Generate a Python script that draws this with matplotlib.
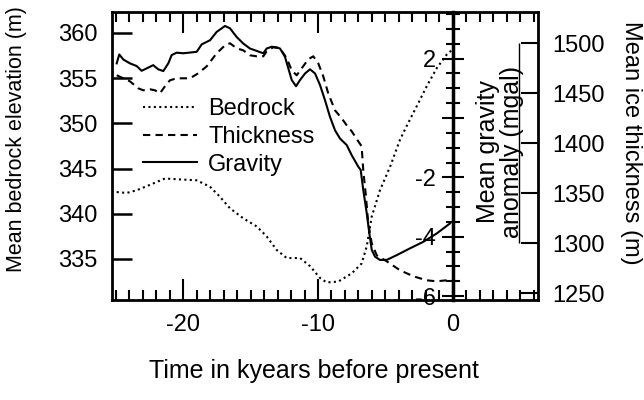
import numpy as np
import matplotlib
matplotlib.use("Agg")
import matplotlib.pyplot as plt
from matplotlib.ticker import MultipleLocator, FixedLocator, NullLocator

plt.rcParams['font.family'] = ['Liberation Sans', 'DejaVu Sans']
plt.rcParams['axes.unicode_minus'] = False

# --- data (time in kyr before present) ---
bed_t = [-24.94, -24.20, -23.46, -22.47, -21.36, -20.25, -19.01, -18.02, -17.29,
         -16.53, -15.55, -14.55, -13.81, -13.07, -12.32, -11.33, -10.59, -9.85,
         -9.35, -8.49, -7.50, -6.76, -6.38, -6.01, -5.40, -4.65, -3.91, -3.42,
         -2.67, -1.93, -1.19, -0.45, -0.07]
bed_v = [342.4, 342.3, 342.6, 343.2, 343.9, 343.8, 343.7, 343.0, 341.9,
         340.6, 339.5, 338.6, 337.5, 336.0, 335.1, 335.1, 334.2, 332.9,
         332.4, 332.5, 333.4, 334.5, 336.4, 339.7, 342.6, 345.2, 348.2, 349.7,
         351.9, 354.1, 356.1, 357.6, 358.1]

thk_t = [-24.94, -24.45, -23.96, -23.34, -22.97, -22.47, -22.10, -21.73, -21.36,
         -20.99, -20.49, -19.50, -18.89, -18.26, -17.52, -16.90, -16.53, -16.04,
         -15.55, -15.05, -14.55, -14.06, -13.81, -13.32, -12.82, -12.32, -11.95,
         -11.58, -11.21, -10.72, -10.35, -9.98, -9.61, -9.24, -8.74, -8.24, -7.87,
         -7.50, -7.01, -6.76, -6.64, -6.44, -6.27, -6.01, -5.64, -4.90, -3.91,
         -2.92, -1.93, -1.19, -0.45]
thk_v = [1468, 1465, 1462, 1455, 1453, 1454, 1453, 1450, 1457,
         1463, 1465, 1465, 1470, 1477, 1490, 1498, 1500, 1495,
         1493, 1488, 1487, 1487, 1492, 1496, 1495, 1485, 1473,
         1468, 1475, 1484, 1487, 1480, 1467, 1450, 1433, 1425, 1418,
         1412, 1402, 1397, 1373, 1347, 1320, 1300, 1288, 1282, 1273,
         1267, 1263, 1262, 1263]

grav_t = [-24.94, -24.75, -24.45, -23.96, -23.46, -23.09, -22.72, -22.23, -21.86,
          -21.48, -21.11, -20.86, -20.49, -20.00, -19.38, -19.00, -18.63, -18.01,
          -17.52, -16.90, -16.53, -16.04, -15.55, -15.05, -14.55, -14.06, -13.81,
          -13.44, -13.07, -12.82, -12.45, -12.20, -11.95, -11.63, -11.33, -10.96,
          -10.59, -10.22, -9.85, -9.48, -9.11, -8.74, -8.37, -7.87, -7.50, -7.01,
          -6.83, -6.64, -6.38, -6.19, -6.01, -5.77, -5.40, -4.90, -4.16, -3.17,
          -2.18, -1.19, -0.20]
grav_v = [1.84, 2.14, 1.97, 1.84, 1.75, 1.59, 1.67, 1.78, 1.64,
          1.58, 1.84, 2.12, 2.20, 2.18, 2.21, 2.23, 2.48, 2.62,
          2.90, 3.10, 3.02, 2.73, 2.51, 2.34, 2.26, 2.18, 2.34,
          2.40, 2.38, 2.34, 2.06, 1.67, 1.28, 1.07, 1.28, 1.50,
          1.64, 1.50, 1.11, 0.60, 0.04, -0.41, -0.69, -0.91, -1.25, -1.64,
          -1.75, -2.42, -3.21, -3.88, -4.44, -4.67, -4.78, -4.78, -4.62, -4.39,
          -4.17, -3.89, -3.55]

bed_ticks = [335, 340, 345, 350, 355, 360]
thk_ticks = [1250, 1300, 1350, 1400, 1450, 1500]
grav_ticks = [-6, -4, -2, 0, 2]
grav_labels = ['-6', '-4', '-2', '', '2']

FS = 17

fig = plt.figure(figsize=(6.44, 4.0), dpi=100)
ax = fig.add_axes([0.1739, 0.25, 0.6615, 0.72])
ax_r = ax.twinx()
ax_g = ax.twinx()

l_bed, = ax.plot(bed_t, bed_v, color='black', lw=1.5, ls=(0, (1, 1.6)), label='Bedrock')
l_thk, = ax_r.plot(thk_t, thk_v, color='black', lw=1.5, ls=(0, (3.5, 2.5)), label='Thickness')
l_grav, = ax_g.plot(grav_t, grav_v, color='black', lw=1.5, label='Gravity')

ax.set_xlim(-25.29, 6.33)
ax.set_ylim(330.46, 362.32)
ax_r.set_ylim(1243.3, 1531.3)
ax_g.set_ylim(-6.13, 3.57)

for sp in ax.spines.values():
    sp.set_linewidth(2.0)
for sp in ax_r.spines.values():
    sp.set_visible(False)
for sp in ax_g.spines.values():
    sp.set_visible(False)

# x axis: ticks top and bottom, inward
ax.xaxis.set_major_locator(MultipleLocator(10))
ax.xaxis.set_minor_locator(MultipleLocator(1))
ax.tick_params(axis='x', which='major', direction='in', length=15, width=1.5,
               top=True, bottom=True, labelsize=FS, pad=10)
ax.tick_params(axis='x', which='minor', direction='in', length=7.5, width=1.5,
               top=True, bottom=True)

# left y axis
ax.set_yticks(bed_ticks)
ax.yaxis.set_minor_locator(NullLocator())
ax.tick_params(axis='y', which='major', direction='in', length=14.5, width=1.8,
               labelsize=FS, pad=10.5, right=False)

# right y axis (ice thickness)
ax_r.set_yticks(thk_ticks)
ax_r.tick_params(axis='y', direction='in', length=12, width=1.5,
                 labelsize=FS, pad=10)
ax_r.vlines(4.95, 1300, 1500, color='black', lw=1.0)

# gravity axis sitting at t = 0
ax_g.spines['left'].set_visible(True)
ax_g.spines['left'].set_position(('data', 0))
ax_g.spines['left'].set_linewidth(2.5)
ax_g.yaxis.set_ticks_position('left')
ax_g.yaxis.set_label_position('left')
ax_g.yaxis.set_major_locator(FixedLocator(grav_ticks))
ax_g.set_yticklabels(grav_labels)
ax_g.yaxis.set_minor_locator(MultipleLocator(0.5))
ax_g.tick_params(axis='y', which='major', direction='inout', length=16, width=1.5,
                 labelsize=FS, pad=4)
ax_g.tick_params(axis='y', which='minor', direction='inout', length=10, width=1.5)

leg = ax.legend(handles=[l_bed, l_thk, l_grav], loc='upper left',
                bbox_to_anchor=(0.073, 0.70), frameon=False, fontsize=17,
                handlelength=2.3, handletextpad=0.45, labelspacing=0.24,
                borderpad=0.0, borderaxespad=0.0)

fig.text(17 / 644, 1 - 139 / 400, 'Mean bedrock elevation (m)', rotation=90,
         ha='center', va='center', fontsize=15.5)
fig.text(631 / 644, 1 - 143 / 400, 'Mean ice thickness (m)', rotation=-90,
         ha='center', va='center', fontsize=17)
fig.text(500 / 644, 1 - 152 / 400, 'Mean gravity\nanomaly (mgal)', rotation=90,
         ha='center', va='center', fontsize=18, multialignment='center',
         linespacing=0.95)
fig.text(314 / 644, 1 - 371 / 400, 'Time in kyears before present',
         ha='center', va='center', fontsize=18)

fig.savefig('out.png', dpi=100)
